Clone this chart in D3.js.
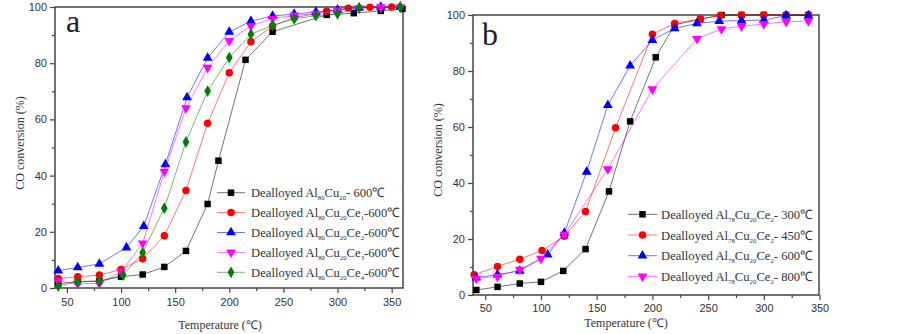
<!DOCTYPE html>
<html>
<head>
<meta charset="utf-8">
<script src="https://cdn.jsdelivr.net/npm/d3@7"></script>
<style>
  body { margin: 0; background: #fff; }
  svg { display: block; }
</style>
</head>
<body>
<div id="chart"></div>
<script>
// ---- panel a : [temperature, CO conversion %] ----
const aCu20   = [[42,1.5],[60,2.3],[80,2.5],[100,4],[120,4.8],[140,7.5],[160,13.2],[180,29.9],[190,45.3],[215,81.2],[240,91.2],[290,97.2],[315,97.8],[340,98.6],[360,99.3]];
const aCe1    = [[42,3.4],[60,4],[80,4.6],[100,6.6],[120,10.4],[140,18.6],[160,34.7],[180,58.6],[200,76.6],[220,87.6],[240,93.2],[260,96.2],[280,97.6],[290,98.6],[310,99.6],[330,99.9],[350,100]];
const aCe2    = [[42,6.2],[60,7.3],[80,8.6],[105,14.4],[121,22],[141,44],[161,67.8],[180,81.9],[200,91.1],[220,95],[240,96.8],[260,97.5],[280,98.2],[300,99],[320,99.7],[340,100],[358,100]];
const aCe3    = [[42,2.5],[60,1.5],[80,1.6],[100,5.8],[120,15.9],[140,41.4],[160,64],[180,78.4],[200,88],[220,93.3],[240,95.9],[260,97],[280,97.6],[300,98.8],[320,99.6],[340,100],[358,100]];
const aCe4    = [[42,0.7],[60,2.2],[80,2.4],[102,4.6],[120,12.6],[140,28.4],[160,52],[180,70.1],[200,82],[220,90.3],[240,93.5],[260,95.8],[280,96.9],[300,97.6],[320,99.7],[358,100]];

// ---- panel b ----
const b300 = [[42,1.8],[61,2.9],[81,4.1],[100,4.7],[120,8.6],[140,16.4],[161,37],[180,62],[203,84.9],[220,96.5],[243,98.5],[262,100],[280,100],[300,100],[320,100],[340,100]];
const b450 = [[40,7.2],[61,10.2],[81,12.8],[101,15.9],[121,21],[140,29.8],[167,59.7],[200,93.1],[220,97],[243,98.6],[261,99.8],[280,100],[300,100],[320,100],[340,100]];
const b600 = [[42,6.2],[61,7.3],[81,8.6],[106,14.4],[121,22.2],[141,44],[160,67.8],[180,81.9],[200,91],[220,95.2],[240,97],[260,97.8],[280,98],[300,98.2],[320,99.8],[340,99.8]];
const b800 = [[42,5.9],[61,6.6],[81,9.1],[100,13],[121,21.6],[160,45],[200,73.5],[240,91.5],[262,95],[280,96],[300,96.8],[320,97.6],[340,97.8]];

// legend labels: [plain, subscript, plain, subscript, ...]
const aLabels = [
  ["Dealloyed Al","80","Cu","20","- 600\u2103"],
  ["Dealloyed Al","80","Cu","20","Ce","1","-600\u2103"],
  ["Dealloyed Al","80","Cu","20","Ce","2","-600\u2103"],
  ["Dealloyed Al","80","Cu","20","Ce","3","-600\u2103"],
  ["Dealloyed Al","80","Cu","20","Ce","4","-600\u2103"]
];
const bLabels = [
  ["Dealloyed Al","78","Cu","20","Ce","2","- 300\u2103"],
  ["Dealloyed Al","78","Cu","20","Ce","2","- 450\u2103"],
  ["Dealloyed Al","78","Cu","20","Ce","2","- 600\u2103"],
  ["Dealloyed Al","78","Cu","20","Ce","2","- 800\u2103"]
];

const xTicksA = [50,100,150,200,250,300,350];
const xMinorA = [75,125,175,225,275,325];
const xTicksB = [50,100,150,200,250,300,350];
const xMinorB = [75,125,175,225,275,325];
const yTicks = [0,20,40,60,80,100];
const yMinor = [10,30,50,70,90];

const svg = d3.select("#chart").append("svg")
    .attr("width", 903)
    .attr("height", 334);

const serif = "'Liberation Serif','Times New Roman',serif";
const sans = "'Liberation Sans',Arial,sans-serif";

function drawPanel(p) {
  const x = d3.scaleLinear().domain(p.xDomain).range([p.left, p.right]);
  const y = d3.scaleLinear().domain([0, 100]).range([p.bottom, p.top]);

  const g = svg.append("g");

  // minor + major ticks, outward
  const styleAxis = sel => {
    sel.select(".domain").remove();
    sel.selectAll("line").attr("stroke", "#444").attr("stroke-width", 1.2);
    sel.selectAll("text").attr("font-family", sans).attr("font-size", 11).attr("fill", "#333");
  };
  g.append("g").attr("transform", `translate(0,${p.bottom})`)
    .call(d3.axisBottom(x).tickValues(p.xMinor).tickSize(3).tickFormat(""))
    .call(styleAxis);
  g.append("g").attr("transform", `translate(0,${p.bottom})`)
    .call(d3.axisBottom(x).tickValues(p.xTicks).tickSize(5).tickPadding(p.xPad))
    .call(styleAxis);
  g.append("g").attr("transform", `translate(${p.left},0)`)
    .call(d3.axisLeft(y).tickValues(yMinor).tickSize(3).tickFormat(""))
    .call(styleAxis);
  g.append("g").attr("transform", `translate(${p.left},0)`)
    .call(d3.axisLeft(y).tickValues(yTicks).tickSize(5).tickPadding(3))
    .call(styleAxis);

  // frame
  g.append("rect")
    .attr("x", p.left).attr("y", p.top)
    .attr("width", p.right - p.left).attr("height", p.bottom - p.top)
    .attr("fill", "none").attr("stroke", "#444").attr("stroke-width", 1.5);

  const line = d3.line().x(d => x(d[0])).y(d => y(d[1]));

  p.series.forEach(s => {
    g.append("path")
      .datum(s.data)
      .attr("d", line)
      .attr("fill", "none")
      .attr("stroke", s.color)
      .attr("stroke-opacity", 0.55)
      .attr("stroke-width", 1);
    g.selectAll(null)
      .data(s.data)
      .join("path")
      .attr("d", d3.symbol(s.symbol, s.size))
      .attr("transform", d => `translate(${x(d[0])},${y(d[1])})${s.rot || ""}`)
      .attr("fill", s.color);
  });

  // legend
  p.series.forEach((s, i) => {
    const ly = p.legY + i * p.legStep;
    g.append("line")
      .attr("x1", p.legX1).attr("x2", p.legX2)
      .attr("y1", ly).attr("y2", ly)
      .attr("stroke", s.color).attr("stroke-opacity", 0.55).attr("stroke-width", 1);
    g.append("path")
      .attr("d", d3.symbol(s.symbol, s.size))
      .attr("transform", `translate(${(p.legX1 + p.legX2) / 2},${ly})${s.rot || ""}`)
      .attr("fill", s.color);

    const tg = g.append("g");
    const t = tg.append("text")
      .attr("font-family", serif)
      .attr("font-size", 13)
      .attr("fill", "#333");
    s.label.forEach((part, k) => {
      const sub = k % 2 === 1;
      t.append("tspan")
        .attr("font-size", sub ? 7 : 13)
        .attr("dy", sub ? 3 : (k > 0 ? -3 : 0))
        .text(part);
    });
    const w = t.node().getComputedTextLength();
    tg.attr("transform", `translate(${p.legTx},${ly + 4.5}) scale(${s.legW / w},1)`);
  });

  // panel letter
  g.append("text")
    .attr("x", p.letterX).attr("y", p.letterY)
    .attr("font-family", serif).attr("font-size", 32).attr("fill", "#222")
    .text(p.letter);

  // axis titles
  g.append("text")
    .attr("x", p.xTitleX).attr("y", p.xTitleY)
    .attr("text-anchor", "middle")
    .attr("font-family", serif).attr("font-size", 12).attr("fill", "#333")
    .text("Temperature (\u2103)");
  g.append("text")
    .attr("transform", `translate(${p.yTitleX},${p.yTitleY}) rotate(-90)`)
    .attr("text-anchor", "middle")
    .attr("font-family", serif).attr("font-size", 12).attr("fill", "#333")
    .text("CO conversion (%)");
}

const sq = d3.symbolSquare, ci = d3.symbolCircle, tr = d3.symbolTriangle, di = d3.symbolDiamond;

drawPanel({
  xDomain: [39, 360.5], left: 55, right: 403, top: 7, bottom: 288,
  xTicks: xTicksA, xMinor: xMinorA, xPad: 5,
  letter: "a", letterX: 66, letterY: 32,
  xTitleX: 220, xTitleY: 329, yTitleX: 24, yTitleY: 143,
  legX1: 217, legX2: 245, legTx: 251, legY: 192.7, legStep: 19.9,
  series: [
    { data: aCu20, color: "#000000", symbol: sq, size: 42, label: aLabels[0], legW: 134 },
    { data: aCe1, color: "#ff0000", symbol: ci, size: 44, label: aLabels[1], legW: 149 },
    { data: aCe2, color: "#0000ff", symbol: tr, size: 42, label: aLabels[2], legW: 149 },
    { data: aCe3, color: "#ff00ff", symbol: tr, size: 42, rot: " rotate(180)", label: aLabels[3], legW: 149 },
    { data: aCe4, color: "#008000", symbol: di, size: 40, label: aLabels[4], legW: 149 }
  ]
});

drawPanel({
  xDomain: [39, 349.5], left: 473, right: 819, top: 15, bottom: 295,
  xTicks: xTicksB, xMinor: xMinorB, xPad: 4,
  letter: "b", letterX: 482, letterY: 45,
  xTitleX: 626, xTitleY: 327, yTitleX: 442, yTitleY: 150,
  legX1: 628, legX2: 657, legTx: 661, legY: 214.3, legStep: 20.7,
  series: [
    { data: b300, color: "#000000", symbol: sq, size: 42, label: bLabels[0], legW: 152 },
    { data: b450, color: "#ff0000", symbol: ci, size: 44, label: bLabels[1], legW: 152 },
    { data: b600, color: "#0000ff", symbol: tr, size: 42, label: bLabels[2], legW: 152 },
    { data: b800, color: "#ff00ff", symbol: tr, size: 42, rot: " rotate(180)", label: bLabels[3], legW: 152 }
  ]
});
</script>
</body>
</html>
